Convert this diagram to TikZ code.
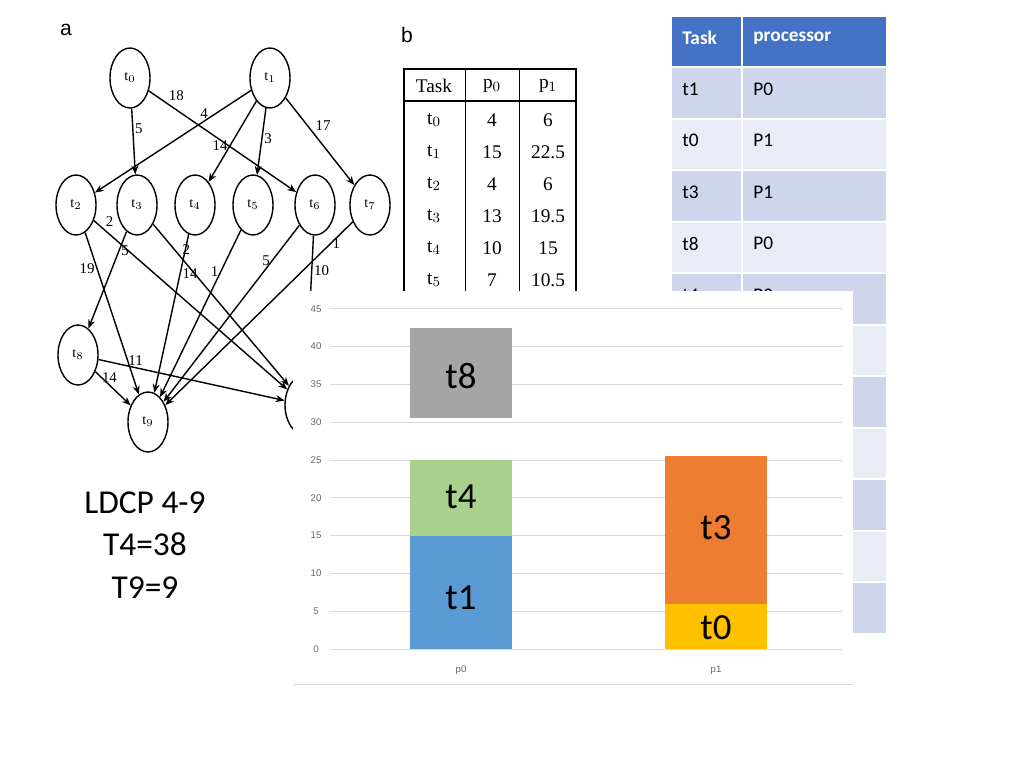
\documentclass[tikz,border=0pt]{standalone}
\usepackage{fontspec}
\setmainfont{Carlito}
\newfontfamily\graphfont{Liberation Serif}
\newfontfamily\labfont{Liberation Sans}
\usetikzlibrary{shapes.geometric,arrows.meta,positioning,calc}
\definecolor{hdrblue}{HTML}{4472C4}
\definecolor{rowdark}{HTML}{CFD5EA}
\definecolor{rowlight}{HTML}{E9EBF5}
\definecolor{barblue}{HTML}{5B9BD5}
\definecolor{bargreen}{HTML}{A9D18E}
\definecolor{bargrey}{HTML}{A5A5A5}
\definecolor{bargold}{HTML}{FFC000}
\definecolor{barorange}{HTML}{ED7D31}
\tikzset{
  task/.style={draw, thick, ellipse, minimum width=0.8cm, minimum height=1.2cm, inner sep=0pt, font=\graphfont\fontsize{8}{8}\selectfont},
  dep/.style={-{Stealth[length=5pt,width=4pt]}, thick},
  wt/.style={font=\graphfont\fontsize{8.5}{9}\selectfont, inner sep=1pt},
  cell/.style={font=\fontsize{11}{12}\selectfont, anchor=west, inner sep=0pt},
  bartxt/.style={font=\fontsize{21}{22}\selectfont},
}
\begin{document}
\begin{tikzpicture}[x=0.02cm, y=-0.02cm]
\useasboundingbox (0,0) rectangle (1024,768);

% panel labels
\node[font=\labfont\fontsize{12}{12}\selectfont] at (66,30) {a};
\node[font=\labfont\fontsize{12}{12}\selectfont] at (407,35) {b};

% task graph
\node[task] (t0) at (130,78) {t$_0$};
\node[task] (t1) at (270,78) {t$_1$};
\foreach \n/\x in {2/76,3/137,4/195,5/253,6/315,7/370} {
  \node[task] (t\n) at (\x,205) {t$_\n$};
}
\node[task] (t8) at (78,355) {t$_8$};
\node[task] (t9) at (148,422) {t$_9$};
\node[task] (t10) at (305,405) {t$_{10}$};

\draw[dep] (t0) -- node[wt, pos=0.3, right] {5} (t3);
\draw[dep] (t0) -- node[wt, pos=0.12, above right] {18} (t6);
\draw[dep] (t1) -- node[wt, pos=0.3, above] {4} (t2);
\draw[dep] (t1) -- node[wt, pos=0.55, left] {14} (t4);
\draw[dep] (t1) -- node[wt, pos=0.45, right] {3} (t5);
\draw[dep] (t1) -- node[wt, pos=0.4, above right] {17} (t7);
\draw[dep] (t2) -- node[wt, pos=0.22, left] {19} (t9);
\draw[dep] (t2) -- node[wt, pos=0.05, above right] {2} (t10);
\draw[dep] (t3) -- node[wt, pos=0.2, right] {5} (t8);
\draw[dep] (t3) -- node[wt, pos=0.2, above right] {2} (t10);
\draw[dep] (t4) -- node[wt, pos=0.25, right] {14} (t9);
\draw[dep] (t5) -- node[wt, pos=0.25, left] {1} (t9);
\draw[dep] (t6) -- node[wt, pos=0.2, left] {5} (t9);
\draw[dep] (t6) -- node[wt, pos=0.25, right] {10} (t10);
\draw[dep] (t7) -- node[wt, pos=0.12, right] {1} (t9);
\draw[dep] (t8) -- node[wt, pos=0.2, above] {11} (t10);
\draw[dep] (t8) -- node[wt, pos=0.4, above] {14} (t9);

% table b
\draw[line width=1.2pt] (404,300) -- (404,69) -- (576,69) -- (576,300);
\draw[thick] (404,101) -- (576,101);
\draw (465,69) -- (465,300);
\draw (519,69) -- (519,300);
\node[font=\graphfont\fontsize{11}{11}\selectfont] at (434,86) {Task};
\node[font=\graphfont\fontsize{11}{11}\selectfont] at (492,86) {p$_0$};
\node[font=\graphfont\fontsize{11}{11}\selectfont] at (548,86) {p$_1$};
\foreach \r/\a/\b [count=\i from 0] in {0/4/6,1/15/22.5,2/4/6,3/13/19.5,4/10/15,5/7/10.5} {
  \node[font=\graphfont\fontsize{11}{11}\selectfont] at (434,120+32*\i) {t$_\r$};
  \node[font=\graphfont\fontsize{11}{11}\selectfont] at (492,120+32*\i) {\a};
  \node[font=\graphfont\fontsize{11}{11}\selectfont] at (548,120+32*\i) {\b};
}

% assignment table
\fill[hdrblue] (672,17) rectangle (741,66);
\fill[hdrblue] (743,17) rectangle (886,66);
\node[cell, text=white, font=\bfseries\fontsize{11}{12}\selectfont] at (682,38) {Task};
\node[cell, text=white, font=\bfseries\fontsize{11}{12}\selectfont] at (753,38) {processor};
\foreach \i in {0,...,10} {
  \pgfmathsetmacro{\ytop}{68+51.5*\i}
  \ifodd\i \def\rc{rowlight}\else\def\rc{rowdark}\fi
  \fill[\rc] (672,\ytop) rectangle (741,\ytop+49.5);
  \fill[\rc] (743,\ytop) rectangle (886,\ytop+49.5);
}
\foreach \t/\p [count=\i from 0] in {t1/P0,t0/P1,t3/P1,t8/P0,t4/P0} {
  \node[cell] at (682,89+51.5*\i) {\t};
  \node[cell] at (753,89+51.5*\i) {\p};
}

% stacked bar chart
\fill[white] (293,291) rectangle (853,685);
\foreach \v in {0,5,...,45} {
  \draw[black!15] (330,649-7.56*\v) -- (843,649-7.56*\v);
  \node[text=black!60, font=\labfont\fontsize{5.5}{6}\selectfont] at (316,649-7.56*\v) {\v};
}
\draw[black!15] (293,684) -- (853,684);
\fill[barblue]   (410,649) rectangle (512,649-7.56*15);
\fill[bargreen]  (410,649-7.56*15) rectangle (512,649-7.56*25);
\fill[bargrey]   (410,649-7.56*30.5) rectangle (512,649-7.56*42.5);
\fill[bargold]   (665,649) rectangle (767,649-7.56*6);
\fill[barorange] (665,649-7.56*6) rectangle (767,649-7.56*25.5);
\node[bartxt] at (461,598) {t1};
\node[bartxt] at (461,497) {t4};
\node[bartxt] at (461,376) {t8};
\node[bartxt] at (716,628) {t0};
\node[bartxt] at (716,528) {t3};
\node[text=black!60, font=\labfont\fontsize{5.5}{6}\selectfont] at (461,670) {p0};
\node[text=black!60, font=\labfont\fontsize{5.5}{6}\selectfont] at (716,670) {p1};

% result note
\node[font=\fontsize{19}{20}\selectfont, align=center] at (145,545) {LDCP 4-9\\[4pt]T4=38\\[4pt]T9=9};
\end{tikzpicture}
\end{document}
